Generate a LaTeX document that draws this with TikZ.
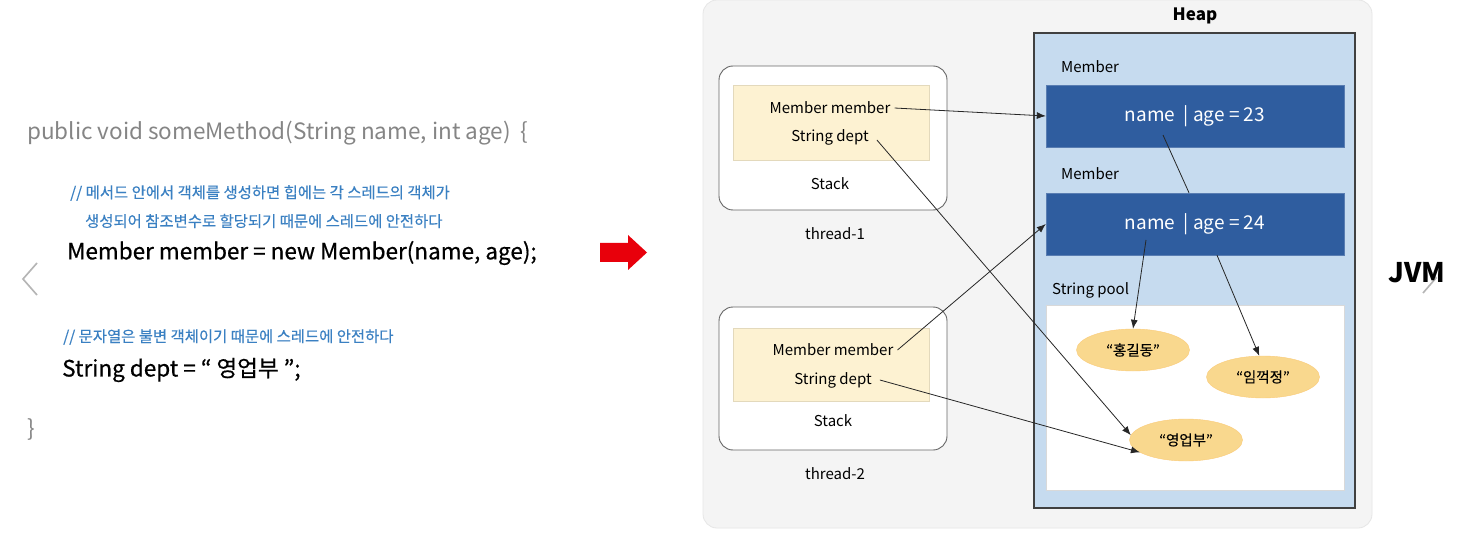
\documentclass[tikz,border=0pt]{standalone}
\usepackage{fontspec}
\setmainfont{Noto Sans CJK KR}
\newfontfamily\medfont{Noto Sans CJK KR}[FakeBold=0.6]
\newfontfamily\semifont{Noto Sans CJK KR}[FakeBold=0.3]
\usetikzlibrary{shapes.geometric,arrows.meta}
\definecolor{panelgray}{HTML}{F4F4F4}
\definecolor{panelline}{HTML}{E6E6E6}
\definecolor{heapblue}{HTML}{C6DBEF}
\definecolor{memblue}{HTML}{2F5D9F}
\definecolor{stackcream}{HTML}{FDF2D2}
\definecolor{creamline}{HTML}{E3D9BC}
\definecolor{strorange}{HTML}{F9D88E}
\definecolor{codegray}{HTML}{858585}
\definecolor{commentblue}{HTML}{3A80C2}
\definecolor{arrowred}{HTML}{E8000B}
\definecolor{chevgray}{HTML}{B5B5B5}
\tikzset{
  codesig/.style={anchor=west, inner sep=0pt, font=\fontsize{22.5}{26}\selectfont},
  codebig/.style={anchor=west, inner sep=0pt, font=\medfont\fontsize{22.5}{26}\selectfont},
  comment/.style={anchor=west, inner sep=0pt, text=commentblue, font=\semifont\fontsize{15.4}{18}\selectfont},
  lbl/.style={inner sep=0pt, font=\fontsize{15}{18}\selectfont},
  stackbox/.style={draw=black!60, line width=0.9pt, fill=white, rounded corners=14pt},
  creambox/.style={draw=creamline, line width=0.6pt, fill=stackcream},
  memberbox/.style={fill=memblue, draw=memblue!80!white, text=white, minimum width=298pt, minimum height=62pt, inner sep=0pt, font=\fontsize{19}{22}\selectfont},
  strnode/.style={ellipse, fill=strorange, draw=strorange!85!orange, line width=0.4pt, minimum width=113pt, minimum height=42pt, inner sep=0pt, font=\semifont\fontsize{14.5}{17}\selectfont},
  arr/.style={draw=black!85, line width=0.8pt, -{Latex[length=9pt,width=7pt]}},
  plainline/.style={draw=black!85, line width=0.8pt}
}
\begin{document}
\begin{tikzpicture}[x=1pt,y=-1pt]
\useasboundingbox (0,0) rectangle (1457,540);
\fill[white] (0,0) rectangle (1457,540);

% ---------- left: code ----------
\node[codesig, text=codegray] (sig) at (27,133) {public void someMethod(String name, int age)\ \ \{};
\node[comment] (c1) at (70,193) {// 메서드 안에서 객체를 생성하면 힙에는 각 스레드의 객체가};
\node[comment] (c2) at (85,221) {생성되어 참조변수로 할당되기 때문에 스레드에 안전하다};
\node[codebig, text=black] (code1) at (67,253) {Member member = new Member(name, age);};
\node[comment] (c3) at (63,337) {// 문자열은 불변 객체이기 때문에 스레드에 안전하다};
\node[codebig, text=black] (code2) at (62,370) {String dept = “ 영업부 ”;};
\node[codesig, text=codegray] (close) at (27,430) {\}};

% red block arrow
\fill[arrowred] (600,243) -- (628,243) -- (628,235) -- (647,252.5) -- (628,270) -- (628,262) -- (600,262) -- cycle;

% nav chevrons
\draw[chevgray, line width=1.6pt] (37,263) -- (23,279) -- (37,295);
\draw[chevgray, line width=1.6pt] (1423,262) -- (1436,278) -- (1423,293);

% ---------- right: JVM panel ----------
\draw[fill=panelgray, draw=panelline, line width=0.8pt, rounded corners=14pt] (703,0) rectangle (1372,528);

\node[inner sep=0pt, font=\bfseries\fontsize{17}{20}\selectfont] (heaplbl) at (1195,16) {Heap};
\draw[fill=heapblue, draw=black!75, line width=1.3pt] (1034,33) rectangle (1355,508);

\node[lbl, anchor=west] (mlbl1) at (1061,67) {Member};
\node[memberbox] (m1) at (1195,116) {name\ \ | age = 23};
\node[lbl, anchor=west] (mlbl2) at (1061,174) {Member};
\node[memberbox] (m2) at (1195,224) {name\ \ | age = 24};

\node[lbl, anchor=west] (poollbl) at (1052,290) {String pool};
\draw[fill=white, draw=black!15, line width=0.6pt] (1046,305) rectangle (1344,490);

\node[strnode] (hong) at (1133,350) {“홍길동”};
\node[strnode] (im) at (1263,377) {“임꺽정”};
\node[strnode] (yeong) at (1186,440) {“영업부”};

% stacks
\draw[stackbox] (719,66) rectangle (947,210);
\draw[creambox] (733,85) rectangle (929,160);
\node[lbl] (s1mm) at (830,108) {Member member};
\node[lbl] (s1sd) at (830,137) {String dept};
\node[lbl] (s1st) at (830,184) {Stack};
\node[lbl] (t1) at (835,234) {thread-1};

\draw[stackbox] (719,307) rectangle (947,450);
\draw[creambox] (733,328) rectangle (929,401);
\node[lbl] (s2mm) at (833,350) {Member member};
\node[lbl] (s2sd) at (833,380) {String dept};
\node[lbl] (s2st) at (833,421) {Stack};
\node[lbl] (t2) at (835,474) {thread-2};

\node[inner sep=0pt, font=\bfseries\fontsize{27}{30}\selectfont] (jvm) at (1417,273) {JVM};

% anchor points inside member boxes
\coordinate (m1name) at ([xshift=-32pt,yshift=-19pt]m1.center);
\coordinate (m2name) at ([xshift=-49pt,yshift=-16pt]m2.center);
\coordinate (m2age) at ([xshift=22pt]m2.south);

% connectors
\draw[arr] ([xshift=4pt]s1mm.east) -- (m1.west);
\draw[arr] ([xshift=8pt,yshift=-3pt]s1sd.east) -- (yeong.175);
\draw[arr] ([xshift=4pt]s2mm.east) -- (m2.west);
\draw[arr] ([xshift=8pt]s2sd.east) -- (yeong.195);
\draw[plainline] (m1name) -- ([xshift=-6pt]m2.north);
\draw[arr] (m2name) -- (hong.north);
\draw[arr] (m2age) -- (im.100);
\end{tikzpicture}
\end{document}
